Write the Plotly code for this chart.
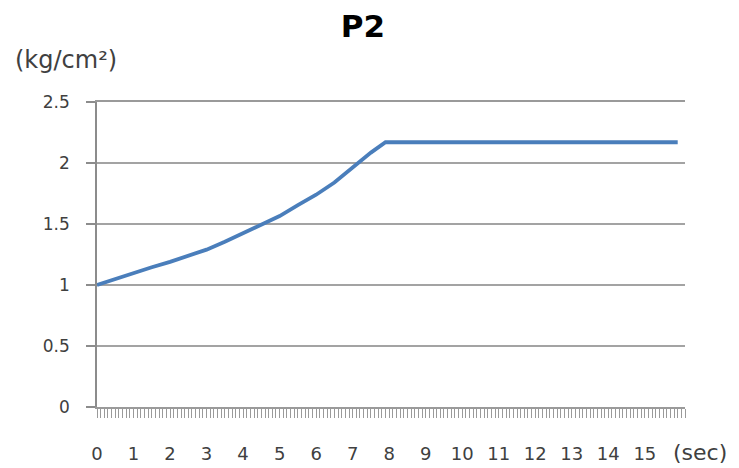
import plotly.graph_objects as go

# time (sec) and pressure (kg/cm2)
time_s = [0, 0.5, 1.0, 1.5, 2.0, 2.5, 3.0, 3.5, 4.0, 4.5, 5.0, 5.5, 6.0, 6.5, 7.0, 7.5, 7.9, 15.9]
pressure = [1.00, 1.05, 1.10, 1.145, 1.19, 1.24, 1.29, 1.355, 1.425, 1.495, 1.565, 1.655, 1.74,
            1.84, 1.96, 2.085, 2.17, 2.17]

x_tick_vals = list(range(0, 16))
x_tick_text = [str(v) for v in x_tick_vals]
y_tick_vals = [0, 0.5, 1, 1.5, 2, 2.5]
y_tick_text = ["0", "0.5", "1", "1.5", "2", "2.5"]

FONT = "DejaVu Sans"
TXT = "#404040"
GRID = "#a3a3a3"

fig = go.Figure()
fig.add_trace(go.Scatter(x=time_s, y=pressure, mode="lines",
                         line=dict(color="#4a7ebb", width=3.8), hoverinfo="skip"))

# the page body adds an 8px offset, so margins are shifted by 8px up/left
fig.update_layout(
    width=739, height=468,
    margin=dict(l=89, r=62, t=94, b=69, autoexpand=False),
    paper_bgcolor="white", plot_bgcolor="white",
    showlegend=False,
    font=dict(family=FONT, color=TXT),
    title=dict(text="<b>P2</b>", x=355/739, xanchor="center", y=0.985, yanchor="top",
               xref="container", yref="container", automargin=False,
               font=dict(family=FONT, size=31, color="#000000")),
    xaxis=dict(range=[0, 16.1], tickmode="array", tickvals=x_tick_vals, ticktext=x_tick_text,
               automargin=False,
               showgrid=False, zeroline=False, showline=True, mirror=True,
               linecolor="#9a9a9a", linewidth=1.5,
               ticks="outside", ticklen=9, tickcolor="#9a9a9a", tickwidth=1,
               minor=dict(dtick=0.1, ticks="outside", ticklen=9, tickcolor="#9a9a9a", tickwidth=1),
               ticklabelstandoff=21,
               tickfont=dict(family=FONT, size=18, color=TXT)),
    yaxis=dict(range=[0, 2.5], tickmode="array", tickvals=y_tick_vals, ticktext=y_tick_text,
               automargin=False,
               showgrid=True, gridcolor=GRID, gridwidth=1.5, zeroline=False,
               showline=True, linecolor="#8c8c8c", linewidth=1.5,
               ticks="outside", ticklen=9, tickcolor="#8c8c8c", tickwidth=1.5,
               ticklabelstandoff=13,
               tickfont=dict(family=FONT, size=17, color=TXT)),
)

fig.add_annotation(text="(kg/cm²)", xref="paper", yref="paper",
                   x=-84/588, y=1 + 42/305, xanchor="left", yanchor="middle",
                   showarrow=False, font=dict(family=FONT, size=24, color=TXT))
fig.add_annotation(text="(sec)", xref="paper", yref="paper",
                   x=1 + 15/588, y=-46/305, xanchor="center", yanchor="middle",
                   showarrow=False, font=dict(family=FONT, size=22, color=TXT))

fig.write_html("out.html")
